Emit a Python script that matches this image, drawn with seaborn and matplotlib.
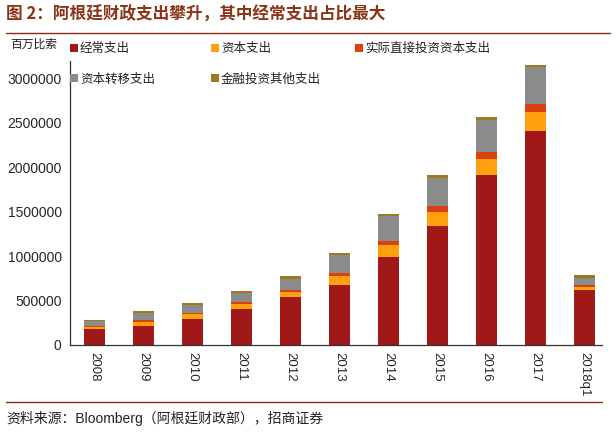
import numpy as np
import matplotlib
matplotlib.use("Agg")
import matplotlib.pyplot as plt
from matplotlib.lines import Line2D
from matplotlib.patches import Patch
import seaborn as sns
import pandas as pd

# data (millions of pesos)
years = ["2008", "2009", "2010", "2011", "2012", "2013", "2014", "2015", "2016", "2017", "2018q1"]
current = [180000, 217000, 296000, 409000, 536000, 675000, 986000, 1339000, 1912000, 2411000, 619000]
capital = [25000, 41000, 52000, 52000, 56000, 98000, 139000, 161000, 180000, 206000, 37000]
direct_inv = [10000, 19000, 15000, 26000, 26000, 41000, 49000, 67000, 75000, 98000, 22000]
transfer = [50000, 79000, 86000, 94000, 128000, 199000, 277000, 315000, 364000, 416000, 79000]
financial = [15000, 26000, 26000, 30000, 30000, 19000, 19000, 30000, 34000, 22000, 26000]

labels = ["经常支出", "资本支出", "实际直接投资资本支出", "资本转移支出", "金融投资其他支出"]
colors = ["#A01818", "#FFA10F", "#D9420F", "#8C8C8C", "#9E7A1C"]

df = pd.DataFrame({"year": years, "current": current, "capital": capital,
                   "direct": direct_inv, "transfer": transfer, "financial": financial})
cols = ["current", "capital", "direct", "transfer", "financial"]
cum = df[cols].cumsum(axis=1)

sns.set_style("white")
plt.rcParams["font.family"] = ["Liberation Sans", "Noto Sans CJK SC", "DejaVu Sans"]

fig = plt.figure(figsize=(6.16, 4.38), dpi=100)
ax = fig.add_axes([70 / 616, 1 - 345 / 438, 532 / 616, 284.4 / 438])

# stacked bars: draw cumulative totals from the top layer down
for c, col in reversed(list(zip(colors, cols))):
    sns.barplot(x=df["year"], y=cum[col], color=c, width=0.42, ax=ax,
                saturation=1, edgecolor="none")

ax.set_ylim(0, 3200000)
ax.set_xlim(-0.5, 10.36)
ax.set_yticks(np.arange(0, 3000001, 500000))
ax.set_yticklabels([str(v) for v in range(0, 3000001, 500000)], fontsize=10)
ax.set_xticks(range(len(years)))
ax.set_xticklabels(years, rotation=-90, fontsize=9.5, va="top")
ax.set_xticks(np.arange(0.5, 10, 1), minor=True)
ax.tick_params(axis="x", which="major", length=0, pad=5)
ax.tick_params(axis="x", which="minor", length=4, width=0.8, direction="out", color="#333333")
ax.tick_params(axis="y", length=4, width=0.8, direction="out", color="#333333", pad=2)
ax.set_xlabel("")
ax.set_ylabel("")
for s in ["top", "right"]:
    ax.spines[s].set_visible(False)
for s in ["left", "bottom"]:
    ax.spines[s].set_color("#333333")
    ax.spines[s].set_linewidth(0.9)

# legend: one small legend per column, two rows
handles = [Patch(facecolor=c, edgecolor="none") for c in colors]
columns = [([0, 3], 70), ([1, 4], 211), ([2], 355)]
for idx, xpix in columns:
    leg = fig.legend([handles[i] for i in idx], [labels[i] for i in idx],
                     loc="upper left", bbox_to_anchor=(xpix / 616, 1 - 42 / 438),
                     frameon=False, handlelength=0.6, handleheight=0.6,
                     handletextpad=0.2, labelspacing=1.4,
                     prop={"family": ["Noto Sans CJK SC"], "size": 9},
                     borderaxespad=0, borderpad=0)
    for t in leg.get_texts():
        t.set_color("#222222")

fig.text(10 / 616, 1 - 44 / 438, "百万比索", fontsize=8.5, va="center", ha="left",
         family=["Noto Sans CJK SC"], color="#222222")

# title and rules
fig.text(6 / 616, 1 - 15 / 438, "图 2：阿根廷财政支出攀升，其中经常支出占比最大",
         fontsize=12, fontweight="bold", color="#8A3418", va="center", ha="left",
         family=["Noto Sans CJK SC", "DejaVu Sans"])
fig.add_artist(Line2D([6 / 616, 610 / 616], [1 - 32.5 / 438] * 2, color="#8A2A1A", lw=1.0))
fig.add_artist(Line2D([6 / 616, 602 / 616], [1 - 401.5 / 438] * 2, color="#8A2A1A", lw=1.0))

fig.text(6 / 616, 1 - 418 / 438, "资料来源：Bloomberg（阿根廷财政部），招商证券",
         fontsize=10, va="center", ha="left", color="#222222",
         family=["Liberation Sans", "Noto Sans CJK SC"])

fig.savefig("out.png", dpi=100)
